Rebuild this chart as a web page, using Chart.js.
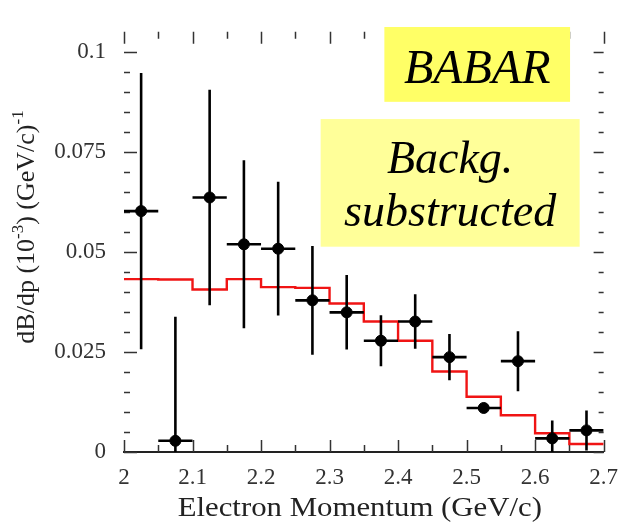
<!DOCTYPE html>
<html>
<head>
    <title>Electron Momentum Spectrum</title>
    <script src="https://cdn.jsdelivr.net/npm/chart.js"></script>
    <style>
        body { margin: 0; background: #fff; }
        #wrap { width: 630px; height: 525px; }
    </style>
</head>
<body>
    <div id="wrap"><canvas id="spectrum" width="630" height="525"></canvas></div>

    <script>
        // bins are 0.05 GeV/c wide
        const binCenters = [2.025, 2.075, 2.125, 2.175, 2.225, 2.275, 2.325, 2.375, 2.425, 2.475, 2.525, 2.575, 2.625, 2.675];
        const binHalfWidth = 0.025;

        // measured spectrum after background subtraction
        const measured    = [0.0602, 0.0028, 0.0636, 0.0519, 0.0508, 0.0379, 0.0349, 0.0278, 0.0326, 0.0237, 0.0110, 0.0227, 0.0034, 0.0054];
        const measuredErr = [0.0345, 0.0310, 0.0269, 0.0210, 0.0167, 0.0136, 0.0093, 0.0064, 0.0068, 0.0058, 0.0008, 0.0075, 0.0045, 0.0050];

        // expected shape (red histogram)
        const expected = [0.0432, 0.0431, 0.0406, 0.0432, 0.0412, 0.0410, 0.0371, 0.0326, 0.0278, 0.0201, 0.0138, 0.0092, 0.0047, 0.0020];

        const xTickValues = [2, 2.1, 2.2, 2.3, 2.4, 2.5, 2.6, 2.7];
        const xTickLabels = ['2', '2.1', '2.2', '2.3', '2.4', '2.5', '2.6', '2.7'];
        const yTickValues = [0, 0.025, 0.05, 0.075, 0.1];
        const yTickLabels = ['0', '0.025', '0.05', '0.075', '0.1'];

        const xTitle = 'Electron Momentum (GeV/c)';
        const yTitleParts = [
            { text: 'dB/dp (10' }, { text: '-3', sup: true },
            { text: ') (GeV/c)' }, { text: '-1', sup: true }
        ];

        const serif = '"Liberation Serif", "Times New Roman", serif';

        // histogram edges: each bin starts at its low edge, last point closes the final bin
        const histPoints = binCenters.map((c, i) => ({ x: c - binHalfWidth, y: expected[i] }));
        histPoints.push({ x: binCenters[binCenters.length - 1] + binHalfWidth, y: expected[expected.length - 1] });

        const markerPoints = binCenters.map((c, i) => ({ x: c, y: measured[i] }));

        // yellow labels, placed in data units
        const notes = [
            { x0: 2.380, x1: 2.651, y0: 0.0875, y1: 0.1062, fill: '#ffff66', size: 48,
              lines: [{ text: 'BABAR', y: 0.0922 }] },
            { x0: 2.287, x1: 2.665, y0: 0.0513, y1: 0.0832, fill: '#ffff99', size: 46,
              lines: [{ text: 'Backg.', y: 0.0697 }, { text: 'substructed', y: 0.0565 }] }
        ];

        // inward ticks on all four sides
        const axisTicks = {
            id: 'axisTicks',
            beforeDatasetsDraw(chart) {
                const { ctx, chartArea: a, scales: { x, y } } = chart;
                ctx.save();
                ctx.strokeStyle = '#333';
                ctx.lineWidth = 1.5;
                ctx.beginPath();
                for (let k = 0; k <= 14; k++) {
                    const v = 2 + k * 0.05;
                    const px = Math.round(x.getPixelForValue(v)) + 0.5;
                    const major = k % 2 === 0;
                    ctx.moveTo(px, a.bottom); ctx.lineTo(px, a.bottom - (major ? 12 : 7));
                    ctx.moveTo(px, a.top); ctx.lineTo(px, a.top + (major ? 12 : 7));
                }
                for (let k = 0; k <= 20; k++) {
                    const v = k * 0.005;
                    const py = Math.round(y.getPixelForValue(v)) + 0.5;
                    const major = k % 5 === 0;
                    ctx.moveTo(a.left, py); ctx.lineTo(a.left + (major ? 13 : 6), py);
                    ctx.moveTo(a.right, py); ctx.lineTo(a.right - (major ? 10 : 5), py);
                }
                ctx.stroke();
                ctx.restore();
            }
        };

        // error bars: full bin width horizontally, +-err vertically
        const errorBars = {
            id: 'errorBars',
            afterDatasetsDraw(chart) {
                const { ctx, chartArea: a, scales: { x, y } } = chart;
                ctx.save();
                ctx.beginPath();
                ctx.rect(a.left, a.top, a.right - a.left, a.bottom - a.top);
                ctx.clip();
                ctx.strokeStyle = '#000';
                ctx.lineWidth = 2.6;
                ctx.beginPath();
                binCenters.forEach((c, i) => {
                    const px = x.getPixelForValue(c);
                    const py = y.getPixelForValue(measured[i]);
                    ctx.moveTo(x.getPixelForValue(c - binHalfWidth), py);
                    ctx.lineTo(x.getPixelForValue(c + binHalfWidth), py);
                    ctx.moveTo(px, y.getPixelForValue(measured[i] + measuredErr[i]));
                    ctx.lineTo(px, y.getPixelForValue(Math.max(0, measured[i] - measuredErr[i])));
                });
                ctx.stroke();
                ctx.restore();
            }
        };

        // axis titles and the yellow notes
        const decorations = {
            id: 'decorations',
            afterDraw(chart) {
                const { ctx, chartArea: a, scales: { x, y } } = chart;
                ctx.save();
                ctx.fillStyle = '#222';

                // x title, slightly widened
                ctx.font = '28px ' + serif;
                ctx.textAlign = 'center';
                ctx.textBaseline = 'alphabetic';
                ctx.save();
                ctx.translate((a.left + a.right) / 2 - 4, 516);
                ctx.scale(1.1, 1);
                ctx.fillText(xTitle, 0, 0);
                ctx.restore();

                // y title with superscripts
                const base = '26px ' + serif, sup = '17px ' + serif;
                let total = 0;
                yTitleParts.forEach(p => { ctx.font = p.sup ? sup : base; total += ctx.measureText(p.text).width; });
                ctx.save();
                ctx.translate(34, 227);
                ctx.rotate(-Math.PI / 2);
                ctx.textAlign = 'left';
                let cx = -total / 2;
                yTitleParts.forEach(p => {
                    ctx.font = p.sup ? sup : base;
                    ctx.fillText(p.text, cx, p.sup ? -11 : 0);
                    cx += ctx.measureText(p.text).width;
                });
                ctx.restore();

                // notes
                notes.forEach(n => {
                    const l = x.getPixelForValue(n.x0), r = x.getPixelForValue(n.x1);
                    const t = y.getPixelForValue(n.y1), b = y.getPixelForValue(n.y0);
                    ctx.fillStyle = n.fill;
                    ctx.fillRect(l, t, r - l, b - t);
                    ctx.fillStyle = '#000';
                    ctx.font = 'italic ' + n.size + 'px ' + serif;
                    ctx.textAlign = 'center';
                    n.lines.forEach(line => ctx.fillText(line.text, (l + r) / 2, y.getPixelForValue(line.y)));
                });
                ctx.restore();
            }
        };

        const ctx = document.getElementById('spectrum').getContext('2d');
        new Chart(ctx, {
            data: {
                datasets: [{
                    type: 'scatter',
                    data: markerPoints,
                    pointRadius: 5.5,
                    pointBackgroundColor: '#000',
                    pointBorderColor: '#000',
                    order: 0
                }, {
                    type: 'line',
                    data: histPoints,
                    stepped: true,
                    borderColor: 'rgb(240, 20, 20)',
                    borderWidth: 2.4,
                    pointRadius: 0,
                    fill: false,
                    order: 1
                }]
            },
            plugins: [axisTicks, errorBars, decorations],
            options: {
                responsive: false,
                animation: false,
                events: [],
                layout: { padding: { top: 8, right: 25, left: 0, bottom: 0 } },
                plugins: { legend: { display: false }, tooltip: { enabled: false } },
                scales: {
                    x: {
                        type: 'linear',
                        min: 2, max: 2.7,
                        afterFit: s => { s.height = 73; },
                        afterBuildTicks: s => { s.ticks = xTickValues.map(v => ({ value: v })); },
                        grid: { display: false, drawTicks: false },
                        border: { display: true, color: '#222', width: 2 },
                        ticks: {
                            padding: 12,
                            color: '#333',
                            maxRotation: 0,
                            autoSkip: false,
                            font: { family: serif, size: 23 },
                            callback: (v, i) => xTickLabels[i]
                        }
                    },
                    y: {
                        type: 'linear',
                        min: 0, max: 0.105,
                        afterFit: s => { s.width = 124; },
                        afterBuildTicks: s => { s.ticks = yTickValues.map(v => ({ value: v })); },
                        grid: { display: false, drawTicks: false },
                        border: { display: false },
                        ticks: {
                            padding: 18,
                            color: '#333',
                            autoSkip: false,
                            font: { family: serif, size: 23 },
                            callback: (v, i) => yTickLabels[i]
                        }
                    }
                }
            }
        });
    </script>
</body>
</html>
